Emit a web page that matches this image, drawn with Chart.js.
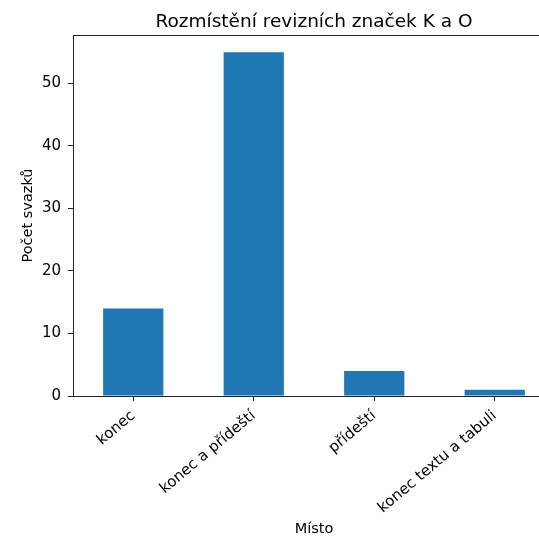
<!DOCTYPE html>
<html>
<head>
<meta charset="utf-8">
<script src="https://cdn.jsdelivr.net/npm/chart.js@4/dist/chart.umd.min.js"></script>
<style>
  html, body { margin: 0; padding: 0; background: #fff; overflow: hidden; }
  #wrap { width: 539px; height: 538px; overflow: hidden; }
  canvas { display: block; }
</style>
</head>
<body>
<div id="wrap"><canvas id="c" width="570" height="538" style="width:570px;height:538px"></canvas></div>
<script>
const categories = ["konec", "konec a přídeští", "přídeští", "konec textu a tabuli"];
const counts = [14, 55, 4, 1];
const yTickValues = [0, 10, 20, 30, 40, 50];
const chartTitle = "Rozmístění revizních značek K a O";
const xTitle = "Místo";
const yTitle = "Počet svazků";

const FONT = "'DejaVu Sans', sans-serif";
const AX = '#222';

// Title centred over the axes (as matplotlib does) plus the top spine
const frameAndTitle = {
  id: 'frameAndTitle',
  afterDraw(chart) {
    const {ctx, chartArea} = chart;
    ctx.save();
    ctx.strokeStyle = AX;
    ctx.lineWidth = 1;
    ctx.beginPath();
    ctx.moveTo(chartArea.left, Math.round(chartArea.top) + 0.5);
    ctx.lineTo(chartArea.right, Math.round(chartArea.top) + 0.5);
    ctx.stroke();
    ctx.fillStyle = '#000';
    ctx.font = "18.5px " + FONT;
    ctx.textAlign = 'center';
    ctx.textBaseline = 'alphabetic';
    ctx.fillText(chartTitle, (chartArea.left + chartArea.right) / 2, 26.5);
    ctx.restore();
  }
};

new Chart(document.getElementById('c'), {
  type: 'bar',
  data: {
    labels: categories,
    datasets: [{
      data: counts,
      backgroundColor: '#1f77b4',
      borderWidth: 0,
      barPercentage: 0.5,
      categoryPercentage: 1.0
    }]
  },
  options: {
    responsive: false,
    animation: false,
    layout: { padding: { left: 0, right: 15, top: 35, bottom: 0 } },
    plugins: {
      legend: { display: false },
      tooltip: { enabled: false },
      title: { display: false }
    },
    scales: {
      x: {
        offset: true,
        grid: { display: true, offset: false, drawOnChartArea: false, drawTicks: true, tickLength: 5, color: AX },
        border: { display: true, color: AX, width: 1 },
        ticks: {
          autoSkip: false,
          minRotation: 40,
          maxRotation: 40,
          padding: 6,
          color: '#000',
          font: { family: FONT, size: 15 }
        },
        title: {
          display: true,
          text: xTitle,
          color: '#000',
          font: { family: FONT, size: 14.5 },
          padding: { top: 0, bottom: 0 }
        },
        afterFit(scale) { scale.height = 142; }
      },
      y: {
        min: 0,
        max: 57.75,
        grid: { display: true, drawOnChartArea: false, drawTicks: true, tickLength: 5, color: AX },
        border: { display: true, color: AX, width: 1 },
        ticks: {
          stepSize: 10,
          padding: 7,
          color: '#000',
          font: { family: FONT, size: 15 }
        },
        afterBuildTicks(scale) {
          scale.ticks = yTickValues.map(v => ({ value: v }));
        },
        title: {
          display: true,
          text: yTitle,
          color: '#000',
          font: { family: FONT, size: 14.5 },
          padding: { top: 20, bottom: 0 }
        },
        afterFit(scale) { scale.width = 73; }
      }
    }
  },
  plugins: [frameAndTitle]
});
</script>
</body>
</html>
